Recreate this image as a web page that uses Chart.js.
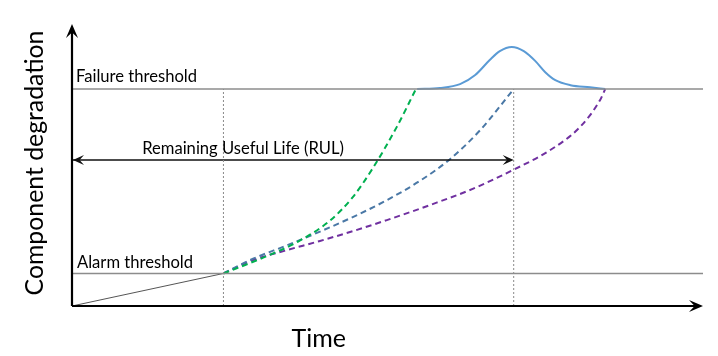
<!DOCTYPE html>
<html>
<head>
<meta charset="utf-8">
<script src="https://cdn.jsdelivr.net/npm/chart.js@4"></script>
<style>
  html, body { margin: 0; padding: 0; background: #fff; }
  #wrap { width: 718px; height: 356px; }
</style>
</head>
<body>
<div id="wrap"><canvas id="c"></canvas></div>
<script>
// time axis 0..100, degradation axis 0..13
const failureLevel = 10
const alarmLevel = 1.5
const alarmTime = 24
const rulEnd = 70
const rulLevel = 6.73

const trend = [[0, 0], [24, 1.5]]
const greenPath = [[24, 1.5], [30.3, 2.23], [35.7, 2.95], [40.9, 3.94], [44.5, 5.02], [47.6, 6.32], [51.5, 8.27], [54.5, 10]]
const bluePath = [[24, 1.5], [28.7, 2.18], [34.1, 2.8], [39.3, 3.43], [44.5, 4.1], [49.9, 4.88], [55.2, 5.78], [59.9, 6.77], [64.7, 8.11], [70, 10]]
const purplePath = [[24, 1.5], [28.7, 2.12], [34.1, 2.58], [39.3, 3.0], [44.5, 3.45], [49.9, 3.96], [56.7, 4.65], [63.5, 5.4], [69.9, 6.27], [75.8, 7.19], [80.5, 8.25], [83.7, 9.5], [84.5, 10]]
const failureDist = [[54.7, 10], [58.3, 10.05], [61.5, 10.23], [63.9, 10.65], [66.2, 11.34], [67.8, 11.75], [69.7, 11.94], [71.6, 11.75], [73.4, 11.3], [75.0, 10.78], [76.6, 10.41], [79.0, 10.18], [82.1, 10.08], [84.5, 10]]

const pts = a => a.map(p => ({ x: p[0], y: p[1] }))

const labelsPlugin = {
  id: 'labels',
  afterDraw(chart) {
    const { ctx, scales: { x, y } } = chart
    const arrow = (px, py, dir, len, half) => {
      ctx.beginPath()
      if (dir === 'right') { ctx.moveTo(px, py); ctx.lineTo(px - len, py - half); ctx.lineTo(px - len * 0.6, py); ctx.lineTo(px - len, py + half) }
      if (dir === 'left') { ctx.moveTo(px, py); ctx.lineTo(px + len, py - half); ctx.lineTo(px + len * 0.6, py); ctx.lineTo(px + len, py + half) }
      if (dir === 'up') { ctx.moveTo(px, py); ctx.lineTo(px - half, py + len); ctx.lineTo(px, py + len * 0.6); ctx.lineTo(px + half, py + len) }
      ctx.closePath(); ctx.fill()
    }
    ctx.save()
    // axes
    ctx.strokeStyle = '#000'; ctx.fillStyle = '#000'; ctx.lineWidth = 2.2
    ctx.beginPath()
    ctx.moveTo(x.getPixelForValue(0), y.getPixelForValue(0))
    ctx.lineTo(x.getPixelForValue(100) - 8, y.getPixelForValue(0))
    ctx.moveTo(x.getPixelForValue(0), y.getPixelForValue(0))
    ctx.lineTo(x.getPixelForValue(0), y.getPixelForValue(13) + 8)
    ctx.stroke()
    arrow(x.getPixelForValue(100), y.getPixelForValue(0), 'right', 14, 6)
    arrow(x.getPixelForValue(0), y.getPixelForValue(13), 'up', 14, 6)
    // RUL arrow heads
    ctx.fillStyle = '#111'
    arrow(x.getPixelForValue(0) + 1, y.getPixelForValue(rulLevel), 'left', 11, 5)
    arrow(x.getPixelForValue(rulEnd), y.getPixelForValue(rulLevel), 'right', 11, 5)
    // texts
    ctx.fillStyle = '#000'
    ctx.font = '16.6px Lato'
    ctx.textBaseline = 'alphabetic'
    ctx.textAlign = 'left'
    ctx.fillText('Failure threshold', x.getPixelForValue(0) + 4, y.getPixelForValue(failureLevel) - 7)
    ctx.fillText('Alarm threshold', x.getPixelForValue(0) + 5, y.getPixelForValue(alarmLevel) - 5)
    ctx.textAlign = 'center'
    ctx.fillText('Remaining Useful Life (RUL)', x.getPixelForValue(27.1), y.getPixelForValue(rulLevel) - 6)
    ctx.font = '25px Lato'
    ctx.fillText('Time', x.getPixelForValue(39.1), y.getPixelForValue(0) + 41)
    ctx.translate(34, (y.top + y.bottom) / 2 - 2)
    ctx.rotate(-Math.PI / 2)
    ctx.font = '24.8px Lato'
    ctx.fillText('Component degradation', 0, 9)
    ctx.restore()
  }
}

const thin = (data, color, width, dash) => ({
  data: pts(data), borderColor: color, borderWidth: width, borderDash: dash || [],
  pointRadius: 0, tension: 0, fill: false
})

const dashed = (data, color) => ({
  data: pts(data), borderColor: color, borderWidth: 2, borderDash: [6, 4],
  pointRadius: 0, cubicInterpolationMode: 'monotone', fill: false
})

new Chart(document.getElementById('c'), {
  type: 'line',
  data: {
    datasets: [
      thin([[0, failureLevel], [100, failureLevel]], '#8c8c8c', 1.5),
      thin([[0, alarmLevel], [100, alarmLevel]], '#8c8c8c', 1.5),
      thin([[alarmTime, 0], [alarmTime, failureLevel]], '#8a8a8a', 1, [2, 2]),
      thin([[rulEnd, 0], [rulEnd, failureLevel]], '#8a8a8a', 1, [2, 2]),
      thin([[0, rulLevel], [rulEnd - 1, rulLevel]], '#111', 1.5),
      thin(trend, '#555', 1),
      dashed(greenPath, '#00b050'),
      dashed(bluePath, '#4a78a6'),
      dashed(purplePath, '#7030a0'),
      { data: pts(failureDist), borderColor: '#5b9bd5', borderWidth: 2, pointRadius: 0, cubicInterpolationMode: 'monotone', fill: false }
    ]
  },
  options: {
    responsive: true, maintainAspectRatio: false, animation: false,
    layout: { padding: { left: 72, right: 15, top: 24, bottom: 50 } },
    plugins: { legend: { display: false }, tooltip: { enabled: false } },
    scales: {
      x: { type: 'linear', min: 0, max: 100, display: false },
      y: { type: 'linear', min: 0, max: 13, display: false }
    }
  },
  plugins: [labelsPlugin]
})
</script>
</body>
</html>
